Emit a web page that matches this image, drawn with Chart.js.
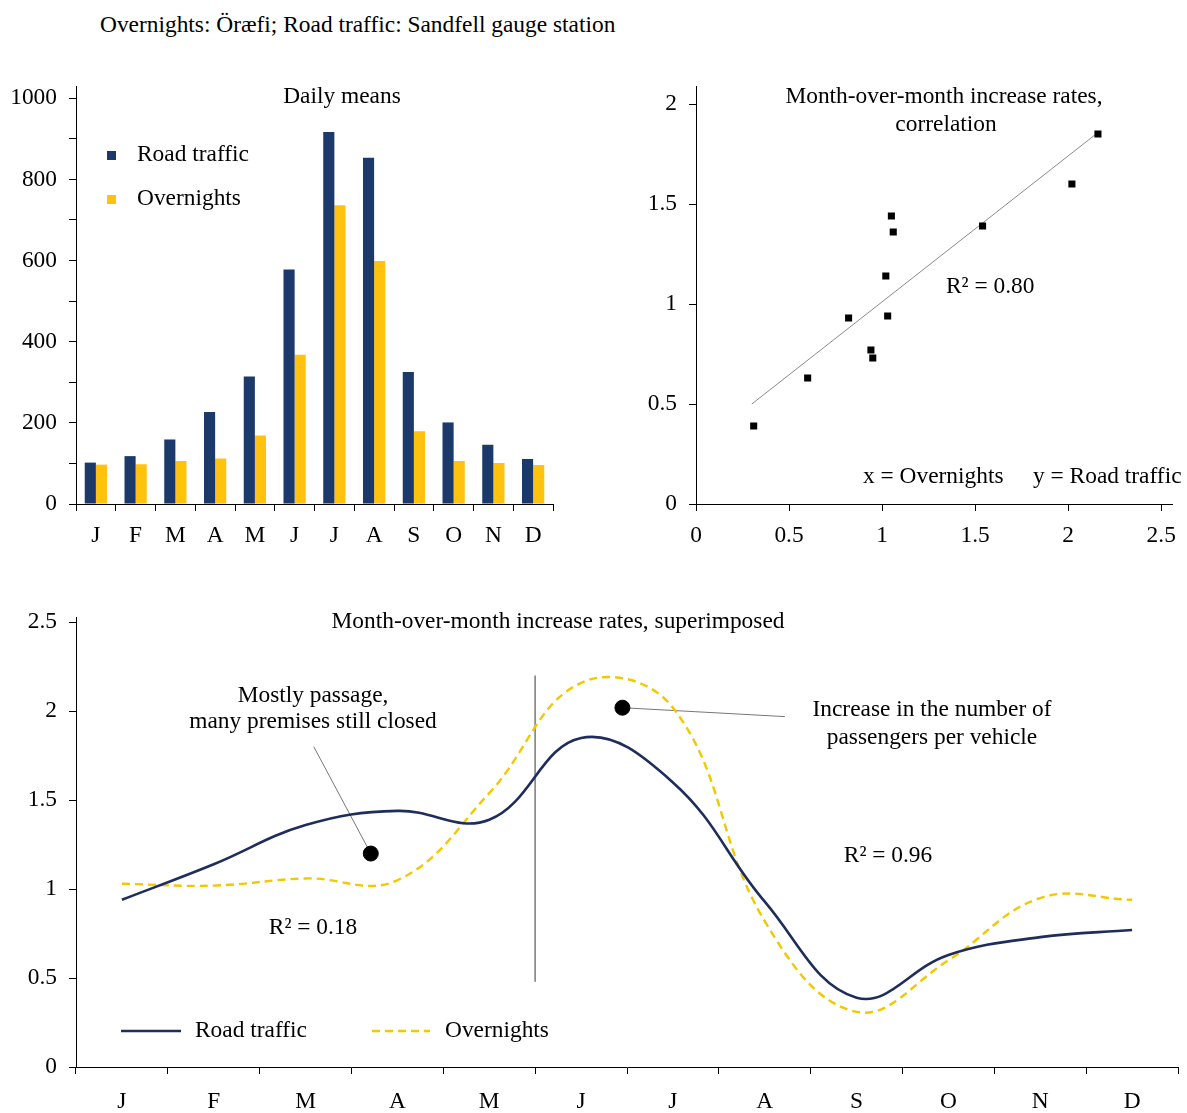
<!DOCTYPE html>
<html><head><meta charset="utf-8">
<script src="https://cdn.jsdelivr.net/npm/chart.js@4.4.1/dist/chart.umd.min.js"></script>
<style>
html,body{margin:0;padding:0;background:#fff;width:1187px;height:1113px;overflow:hidden;}
canvas{position:absolute;}
#title{position:absolute;left:100px;top:10px;font:23.4px 'Liberation Serif','Times New Roman',serif;color:#000;line-height:28px;white-space:nowrap;}
</style></head><body>
<div id="title">Overnights: Öræfi; Road traffic: Sandfell gauge station</div>
<canvas id="c1" width="590" height="500" style="left:0;top:60px"></canvas>
<canvas id="c2" width="577" height="500" style="left:610px;top:60px"></canvas>
<canvas id="c3" width="1187" height="533" style="left:0;top:580px"></canvas>
<script>
// ---- data ----
const months = ['J','F','M','A','M','J','J','A','S','O','N','D'];
const roadDaily = [102,118,159,227,314,578,917,853,325,201,146,111];
const overDaily = [97,98,106,112,169,368,736,599,179,106,101,96];
const roadRate = [0.94,1.14,1.36,1.44,1.39,1.85,1.60,0.93,0.39,0.63,0.73,0.77];
const overRate = [1.03,1.02,1.06,1.05,1.54,2.16,2.02,0.82,0.31,0.60,0.95,0.94];
const trendX = [0.30, 2.15];
const trendY = [0.50, 1.85];
const barTicks = [0,100,200,300,400,500,600,700,800,900,1000];
const scatXTicks = [0,0.5,1,1.5,2,2.5];
const scatYTicks = [0,0.5,1,1.5,2];
const lineYTicks = [0,0.5,1,1.5,2,2.5];
// annotation markers (month index, rate)
const noteDotX = [2.71, 5.45];
const noteDotY = [1.20, 2.02];
const pointer1X = [2.71, 2.09], pointer1Y = [1.20, 1.80];
const pointer2X = [5.45, 7.22], pointer2Y = [2.02, 1.97];
const dividerX = [4.5, 4.5], dividerY = [2.20, 0.48];

const serif = "'Liberation Serif','Times New Roman',serif";
Chart.defaults.font.family = serif;
Chart.defaults.font.size = 23.4;
Chart.defaults.color = '#000';
Chart.defaults.animation = false;

const NAVY_BAR = '#1B3A6B', GOLD_BAR = '#FFC20E';
const NAVY_LINE = '#1F2D5C', YELLOW_LINE = '#F2C800';

function txt(ctx, s, x, y, align){
  ctx.save(); ctx.font = '23.4px ' + serif; ctx.fillStyle = '#000';
  ctx.textAlign = align || 'center'; ctx.textBaseline = 'middle';
  ctx.fillText(s, x, y); ctx.restore();
}
const fmt = v => String(v);
function axisCommon(extra){
  return Object.assign({
    grid:{display:true, drawOnChartArea:false, drawTicks:true, tickLength:7, color:'#000', lineWidth:1},
    border:{display:true, color:'#000', width:1}
  }, extra);
}

// ---- chart 1: bars ----
new Chart(document.getElementById('c1'), {
  type:'bar',
  data:{labels:months, datasets:[
    {label:'Road traffic', data:roadDaily, backgroundColor:NAVY_BAR, barPercentage:1, categoryPercentage:0.56},
    {label:'Overnights', data:overDaily, backgroundColor:GOLD_BAR, barPercentage:1, categoryPercentage:0.56}
  ]},
  options:{responsive:false, animation:false, events:[],
    layout:{padding:{top:25,right:37,bottom:6,left:0}},
    plugins:{legend:{display:false}, tooltip:{enabled:false}},
    scales:{
      x: axisCommon({grid:{display:true, drawOnChartArea:false, drawTicks:true, tickLength:7, color:'#000', offset:true},
         ticks:{padding:11, maxRotation:0}, afterFit:s=>{s.height=50;}}),
      y: axisCommon({min:0, max:1030,
         afterBuildTicks:s=>{s.ticks = barTicks.map(v=>({value:v}));},
         ticks:{padding:12, callback:v=> (v%200===0 ? String(v) : '')},
         afterFit:s=>{s.width=76;}})
    }
  },
  plugins:[{id:'a1', afterDraw(c){
    const ctx=c.ctx;
    txt(ctx,'Daily means',342,37);
    ctx.fillStyle=NAVY_BAR; ctx.fillRect(107,91,9,9);
    ctx.fillStyle=GOLD_BAR; ctx.fillRect(107,135,9,9);
    txt(ctx,'Road traffic',137,95,'left');
    txt(ctx,'Overnights',137,139,'left');
  }}]
});

// ---- chart 2: scatter ----
new Chart(document.getElementById('c2'), {
  type:'scatter',
  data:{datasets:[
    {label:'Months', data:months.map((m,i)=>({x:overRate[i], y:roadRate[i]})),
     pointStyle:'rect', pointRadius:5, backgroundColor:'#000', borderColor:'#000', borderWidth:0},
    {type:'line', label:'Trend', data:trendX.map((x,i)=>({x:x, y:trendY[i]})),
     borderColor:'#8a8a8a', borderWidth:1, pointRadius:0, fill:false}
  ]},
  options:{responsive:false, animation:false, events:[],
    layout:{padding:{top:23,right:7,bottom:6,left:0}},
    plugins:{legend:{display:false}, tooltip:{enabled:false}},
    scales:{
      x: axisCommon({type:'linear', min:0, max:2.56,
         afterBuildTicks:s=>{s.ticks = scatXTicks.map(v=>({value:v}));},
         ticks:{padding:11, maxRotation:0, callback:fmt}, afterFit:s=>{s.height=50;}}),
      y: axisCommon({type:'linear', min:0, max:2.09,
         afterBuildTicks:s=>{s.ticks = scatYTicks.map(v=>({value:v}));},
         ticks:{padding:12, callback:fmt}, afterFit:s=>{s.width=86;}})
    }
  },
  plugins:[{id:'a2', afterDraw(c){
    const ctx=c.ctx;
    txt(ctx,'Month-over-month increase rates,',334,37);
    txt(ctx,'correlation',336,65);
    txt(ctx,'R\u00B2 = 0.80',336,227,'left');
    txt(ctx,'x = Overnights',253,417,'left');
    txt(ctx,'y = Road traffic',423,417,'left');
  }}]
});

// ---- chart 3: lines ----
new Chart(document.getElementById('c3'), {
  type:'line',
  data:{labels:months, datasets:[
    {label:'Road traffic', data:roadRate, borderColor:NAVY_LINE, borderWidth:2.6, tension:0.4, pointRadius:0, fill:false, order:1},
    {label:'Overnights', data:overRate, borderColor:YELLOW_LINE, borderWidth:2.4, borderDash:[8,5], tension:0.4, pointRadius:0, fill:false, order:2},
    {label:'pointer1', xAxisID:'x2', data:pointer1X.map((x,i)=>({x:x,y:pointer1Y[i]})), borderColor:'#777', borderWidth:1, pointRadius:0, tension:0, order:3},
    {label:'pointer2', xAxisID:'x2', data:pointer2X.map((x,i)=>({x:x,y:pointer2Y[i]})), borderColor:'#777', borderWidth:1, pointRadius:0, tension:0, order:3},
    {label:'divider', xAxisID:'x2', data:dividerX.map((x,i)=>({x:x,y:dividerY[i]})), borderColor:'#888', borderWidth:1, pointRadius:0, tension:0, order:3},
    {type:'scatter', label:'notes', xAxisID:'x2', data:noteDotX.map((x,i)=>({x:x,y:noteDotY[i]})), pointRadius:7.5, backgroundColor:'#000', borderColor:'#000', order:0}
  ]},
  options:{responsive:false, animation:false, events:[],
    layout:{padding:{top:37,right:9,bottom:0,left:0}},
    plugins:{legend:{display:false}, tooltip:{enabled:false}},
    scales:{
      x: axisCommon({type:'category', offset:true,
         grid:{display:true, drawOnChartArea:false, drawTicks:true, tickLength:7, color:'#000', offset:true},
         ticks:{padding:14, maxRotation:0, autoSkip:false}, afterFit:s=>{s.height=46;}}),
      x2:{type:'linear', display:false, min:-0.5, max:11.5},
      y: axisCommon({min:0, max:2.53,
         afterBuildTicks:s=>{s.ticks = lineYTicks.map(v=>({value:v}));},
         ticks:{padding:12, callback:fmt}, afterFit:s=>{s.width=76;}})
    }
  },
  plugins:[{id:'a3', afterDraw(c){
    const ctx=c.ctx;
    txt(ctx,'Month-over-month increase rates, superimposed',558,42);
    txt(ctx,'Mostly passage,',313,116);
    txt(ctx,'many premises still closed',313,142);
    txt(ctx,'Increase in the number of',932,130);
    txt(ctx,'passengers per vehicle',932,158);
    txt(ctx,'R\u00B2 = 0.18',313,348);
    txt(ctx,'R\u00B2 = 0.96',888,276);
    ctx.save();
    ctx.lineWidth=2.6; ctx.strokeStyle=NAVY_LINE;
    ctx.beginPath(); ctx.moveTo(121,451); ctx.lineTo(181,451); ctx.stroke();
    ctx.lineWidth=2.4; ctx.strokeStyle=YELLOW_LINE; ctx.setLineDash([8,5]);
    ctx.beginPath(); ctx.moveTo(372,451); ctx.lineTo(430,451); ctx.stroke();
    ctx.restore();
    txt(ctx,'Road traffic',195,451,'left');
    txt(ctx,'Overnights',445,451,'left');
  }}]
});
</script>
</body></html>
